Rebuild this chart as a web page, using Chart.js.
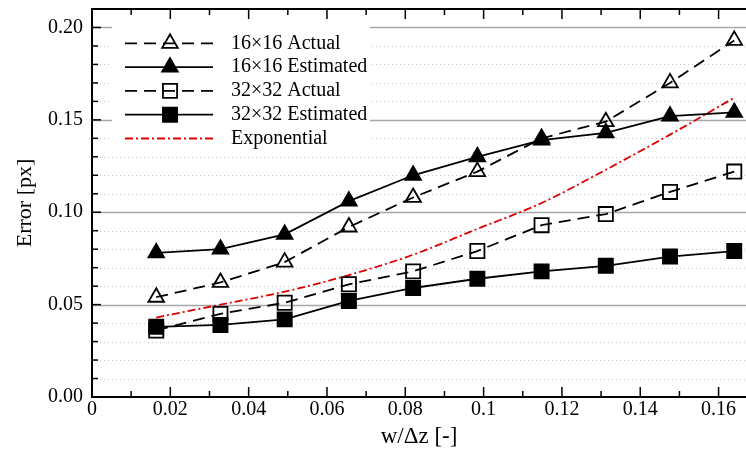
<!DOCTYPE html>
<html>
<head>
<meta charset="utf-8">
<script src="https://cdn.jsdelivr.net/npm/chart.js@4.4.0/dist/chart.umd.min.js"></script>
<style>
html,body{margin:0;padding:0;background:#fff;overflow:hidden;}
#wrap{width:746px;height:457px;}
</style>
</head>
<body>
<div id="wrap"><canvas id="c"></canvas></div>
<script>
/* data */
const xVals=[0.0164,0.0328,0.0492,0.0656,0.082,0.0984,0.1148,0.1312,0.1476,0.164];
const act16=[0.054,0.062,0.073,0.092,0.108,0.122,0.140,0.149,0.170,0.193];
const est16=[0.078,0.080,0.088,0.106,0.120,0.130,0.139,0.143,0.152,0.154];
const act32=[0.036,0.045,0.051,0.061,0.068,0.079,0.093,0.099,0.111,0.122];
const est32=[0.038,0.039,0.042,0.052,0.059,0.064,0.068,0.071,0.076,0.079];
const expo=[0.043,0.050,0.057,0.066,0.077,0.091,0.105,0.123,0.142,0.162];
const names=["16×16 Actual","16×16 Estimated","32×32 Actual","32×32 Estimated","Exponential"];

const FONT="'Liberation Serif','Times New Roman',serif";
const DASH=[12,7], DASHDOT=[8,3,2,3];

function pts(arr){ return arr.map((v,i)=>({x:xVals[i],y:v})); }

function series(name,arr,style,filled,dash){
return {
label:name,data:pts(arr),
borderColor:"#000",borderWidth:1.8,borderDash:dash,tension:0,
pointStyle:style,pointRadius:style==="triangle"?9:10,pointHoverRadius:style==="triangle"?9:10,
pointBorderColor:"#000",pointBorderWidth:1.8,
pointBackgroundColor:filled?"#000":"rgba(0,0,0,0)"
};
}

const sets=[
series(names[3],est32,"rect",true,[]),
series(names[1],est16,"triangle",true,[]),
series(names[2],act32,"rect",false,DASH),
series(names[0],act16,"triangle",false,DASH),
{label:names[4],data:pts(expo),borderColor:"#dd0000",borderWidth:1.8,borderDash:DASHDOT,
 pointRadius:0,cubicInterpolationMode:"monotone"}
];

// kill the label overhang padding so the plot box sits where the reference has it
function noPad(s){ s.paddingTop=0;s.paddingBottom=0;s.paddingLeft=0;s.paddingRight=0; }

/* grid, frame, inward ticks */
const frame={
id:"frame",
beforeDatasetsDraw(chart){
const {ctx,chartArea:a,scales:{y}}=chart;
ctx.save();
for(let i=1;i<=20;i++){
let py=Math.round(y.getPixelForValue(i/100))+0.5;
if(i%5===0){ctx.strokeStyle="#a8a8a8";ctx.lineWidth=1.3;ctx.setLineDash([]);}
else{ctx.strokeStyle="#c6c6c6";ctx.lineWidth=1;ctx.setLineDash([1,3]);}
ctx.beginPath();ctx.moveTo(a.left,py);ctx.lineTo(a.right,py);ctx.stroke();
}
ctx.restore();
},
afterDraw(chart){
const {ctx,chartArea:a,scales:{x,y}}=chart;
ctx.save();
ctx.strokeStyle="#000";ctx.setLineDash([]);
ctx.lineWidth=1.5;
for(let i=1;i<=16;i++){
let px=x.getPixelForValue(i/100),len=i%2===0?10:6;
ctx.beginPath();
ctx.moveTo(px,a.bottom);ctx.lineTo(px,a.bottom-len);
ctx.moveTo(px,a.top);ctx.lineTo(px,a.top+len);
ctx.stroke();
}
for(let i=1;i<=20;i++){
let py=y.getPixelForValue(i/100),len=i%5===0?9:6;
ctx.beginPath();ctx.moveTo(a.left,py);ctx.lineTo(a.left+len,py);ctx.stroke();
}
ctx.lineWidth=2;
ctx.beginPath();
ctx.moveTo(a.right,a.top);ctx.lineTo(a.left,a.top);ctx.lineTo(a.left,a.bottom);ctx.lineTo(a.right,a.bottom);
ctx.stroke();

/* legend */
ctx.fillStyle="#fff";ctx.fillRect(112,22,258,128);
const leg=[
{dash:DASH,style:"triangle",r:9,fill:false,color:"#000"},
{dash:[],style:"triangle",r:9,fill:true,color:"#000"},
{dash:DASH,style:"rect",r:10,fill:false,color:"#000"},
{dash:[],style:"rect",r:10,fill:true,color:"#000"},
{dash:DASHDOT,style:null,color:"#dd0000"}
];
leg.forEach((l,i)=>{
let ly=43.3+i*23.8;
ctx.strokeStyle=l.color;ctx.lineWidth=1.8;ctx.setLineDash(l.dash);
ctx.beginPath();ctx.moveTo(125,ly);ctx.lineTo(213,ly);ctx.stroke();
ctx.setLineDash([]);
if(l.style){
ctx.fillStyle=l.fill?"#000":"rgba(0,0,0,0)";
ctx.strokeStyle="#000";ctx.lineWidth=1.8;
Chart.helpers.drawPoint(ctx,{pointStyle:l.style,radius:l.r,borderWidth:1.8,rotation:0},170,ly);
}
ctx.fillStyle="#000";ctx.font="20px "+FONT;ctx.textBaseline="middle";ctx.textAlign="left";
ctx.fillText(names[i],231,ly);
});
ctx.restore();
}
};

new Chart(document.getElementById("c"),{
type:"line",
data:{datasets:sets},
options:{
responsive:true,maintainAspectRatio:false,animation:false,
layout:{autoPadding:false,padding:{top:9,right:0,left:0,bottom:0}},
plugins:{legend:{display:false},tooltip:{enabled:false}},
scales:{
x:{type:"linear",min:0,max:0.167,
grid:{display:false,drawTicks:false},border:{display:false},
ticks:{stepSize:0.02,includeBounds:false,autoSkip:false,maxRotation:0,padding:1,color:"#000",
font:{family:FONT,size:20},callback:v=>String(+v.toFixed(2))},
title:{display:true,text:"w/Δz [-]",color:"#000",font:{family:FONT,size:23},padding:{top:0,bottom:6}},
afterFit:s=>{s.height=60;noPad(s);}
},
y:{min:0,max:0.21,
grid:{display:false,drawTicks:false},border:{display:false},
ticks:{stepSize:0.05,includeBounds:false,padding:9,color:"#000",
font:{family:FONT,size:20},callback:v=>v.toFixed(2)},
title:{display:true,text:"Error [px]",color:"#000",font:{family:FONT,size:22},padding:{top:12,bottom:0}},
afterFit:s=>{s.width=92;noPad(s);}
}
}
},
plugins:[frame]
});
</script>
</body>
</html>
